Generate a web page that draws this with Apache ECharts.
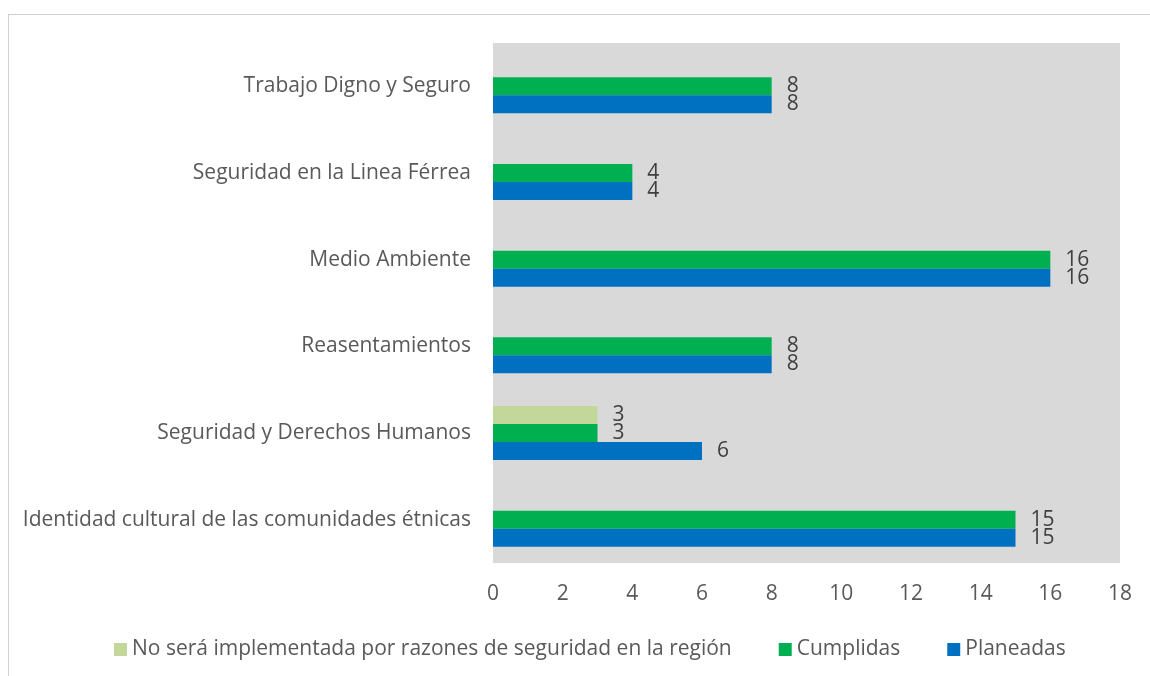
<!DOCTYPE html>
<html>
<head>
<meta charset="utf-8">
<script src="https://cdn.jsdelivr.net/npm/echarts@6/dist/echarts.min.js"></script>
<style>
    html, body { margin: 0; padding: 0; background: #fff; }
    #frame { position: absolute; left: 8px; top: 14px; width: 1200px; height: 700px; border-left: 1px solid #d0d0d0; border-top: 1px solid #d0d0d0; }
    #chart { width: 1150px; height: 676px; position: absolute; left: 0; top: 0; }
</style>
</head>
<body>
<div id="frame"></div>
<div id="chart"></div>
<script>
// categorias de abajo hacia arriba
const categories = [
    'Identidad cultural de las comunidades étnicas',
    'Seguridad y Derechos Humanos',
    'Reasentamientos',
    'Medio Ambiente',
    'Seguridad en la Linea Férrea',
    'Trabajo Digno y Seguro'
]
const noImplementada = [0, 3, 0, 0, 0, 0]
const cumplidas = [15, 3, 8, 16, 4, 8]
const planeadas = [15, 6, 8, 16, 4, 8]
const xTicks = [0, 2, 4, 6, 8, 10, 12, 14, 16, 18]

const font = '"Open Sans", "Noto Sans", sans-serif'
const valueLabel = {
    show: true,
    position: 'right',
    distance: 15,
    fontSize: 21,
    fontFamily: font,
    color: '#404040',
    formatter: p => (p.value ? p.value : '')
}

const chart = echarts.init(document.getElementById('chart'))
chart.setOption({
    animation: false,
    grid: {
        left: 493,
        right: 30,
        top: 43,
        bottom: 113,
        show: true,
        backgroundColor: '#d9d9d9',
        borderWidth: 0
    },
    legend: {
        bottom: 11,
        left: 109,
        itemWidth: 13,
        itemHeight: 13,
        itemGap: 47,
        icon: 'rect',
        textStyle: { fontSize: 21, fontFamily: font, color: '#595959' },
        data: ['No será implementada por razones de seguridad en la región', 'Cumplidas', 'Planeadas']
    },
    xAxis: {
        type: 'value',
        min: xTicks[0],
        max: xTicks[xTicks.length - 1],
        interval: 2,
        axisLine: { show: false },
        axisTick: { show: false },
        splitLine: { show: false },
        axisLabel: { fontSize: 21, fontFamily: font, color: '#595959', margin: 21 }
    },
    yAxis: {
        type: 'category',
        data: categories,
        axisLine: { show: false },
        axisTick: { show: false },
        axisLabel: { fontSize: 21, fontFamily: font, color: '#595959', margin: 22 }
    },
    series: [
        {
            name: 'No será implementada por razones de seguridad en la región',
            type: 'bar',
            data: noImplementada,
            barWidth: 18,
            barGap: '0%',
            itemStyle: { color: '#c4d79b' },
            label: valueLabel
        },
        {
            name: 'Cumplidas',
            type: 'bar',
            data: cumplidas,
            barWidth: 18,
            barGap: '0%',
            itemStyle: { color: '#00b050' },
            label: valueLabel
        },
        {
            name: 'Planeadas',
            type: 'bar',
            data: planeadas,
            barWidth: 18,
            barGap: '0%',
            itemStyle: { color: '#0070c0' },
            label: valueLabel
        }
    ]
})
</script>
</body>
</html>
